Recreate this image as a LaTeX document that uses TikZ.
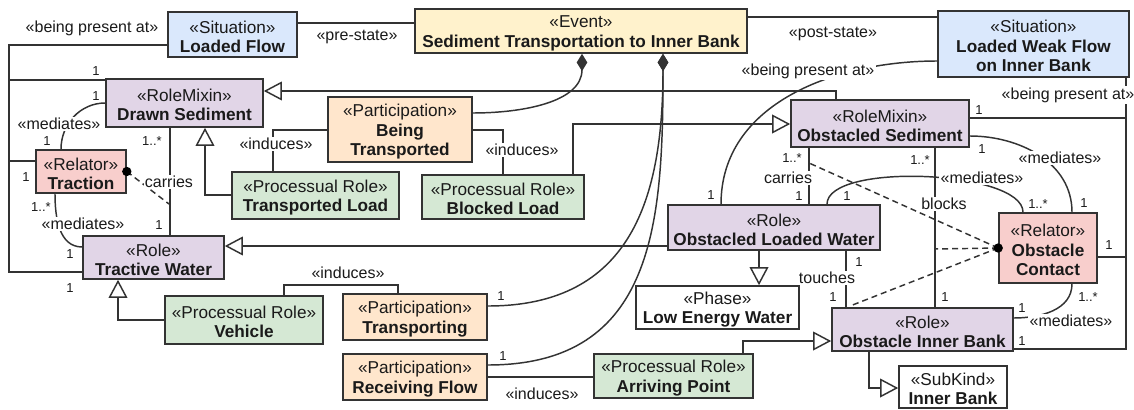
\documentclass[tikz,border=0pt]{standalone}
\usepackage{fontspec}
\setmainfont{Liberation Sans}
\usepackage{tikz}
\usetikzlibrary{arrows.meta}
\definecolor{lineGray}{HTML}{333333}
\definecolor{textGray}{HTML}{1A1A1A}
\definecolor{sitBlue}{HTML}{DAE8FC}
\definecolor{eventYellow}{HTML}{FFF2CC}
\definecolor{rolePurple}{HTML}{E1D5E7}
\definecolor{partOrange}{HTML}{FFE6CC}
\definecolor{procGreen}{HTML}{D5E8D4}
\definecolor{relRed}{HTML}{F8CECC}
\newcommand{\boxtop}{\rule{0pt}{12.5pt}}
\tikzstyle{classNode}=[draw=lineGray, line width=1.2pt, align=center, inner xsep=1pt, inner ysep=-2pt, text=textGray, font=\fontsize{12.9}{14.6}\selectfont]
\tikzstyle{situationNode}=[classNode, fill=sitBlue]
\tikzstyle{eventNode}=[classNode, fill=eventYellow]
\tikzstyle{roleNode}=[classNode, fill=rolePurple]
\tikzstyle{partNode}=[classNode, fill=partOrange]
\tikzstyle{procNode}=[classNode, fill=procGreen]
\tikzstyle{relatorNode}=[classNode, fill=relRed]
\tikzstyle{plainNode}=[classNode, fill=white]
\tikzstyle{assocLine}=[draw=lineGray, line width=1.1pt]
\tikzstyle{genLine}=[assocLine, -{Triangle[open, length=13.5pt, width=14pt]}]
\tikzstyle{compLine}=[assocLine, {Diamond[length=13pt, width=8pt]}-]
\tikzstyle{deriveLine}=[assocLine, dash pattern=on 4.5pt off 3pt]
\tikzstyle{edgeLabel}=[fill=white, inner sep=1pt, text=textGray, font=\fontsize{12}{13}\selectfont]
\tikzstyle{multLabel}=[inner sep=0pt, text=textGray, font=\fontsize{9.75}{10}\selectfont]
\tikzstyle{relDot}=[circle, fill=black, inner sep=0pt, minimum size=7pt]
\tikzset{boxSize/.style 2 args={minimum width=#1*0.75pt, minimum height=#2*0.75pt}}

\begin{document}
\begin{tikzpicture}[x=0.75pt, y=-0.75pt]
  \useasboundingbox (0,0) rectangle (1134,410);

  % situations and event
  \node[situationNode, boxSize={129}{45}] (lf) at (232.5,34.5) {\boxtop«Situation»\\\textbf{Loaded Flow}};
  \node[eventNode, boxSize={332}{44}] (ev) at (581,31) {\boxtop«Event»\\\textbf{Sediment Transportation to Inner Bank}};
  \node[situationNode, boxSize={191}{66}] (lwf) at (1033.5,44) {\boxtop«Situation»\\\textbf{Loaded Weak Flow}\\\textbf{on Inner Bank}};

  % roles and relators
  \node[roleNode, boxSize={157}{48}] (ds) at (184.5,103) {\boxtop«RoleMixin»\\\textbf{Drawn Sediment}};
  \node[relatorNode, boxSize={90}{43}] (tr) at (81,171.5) {\boxtop«Relator»\\\textbf{Traction}};
  \node[roleNode, boxSize={141}{43}] (tw) at (153.5,257.5) {\boxtop«Role»\\\textbf{Tractive Water}};
  \node[roleNode, boxSize={178}{47}] (os) at (880,123.5) {\boxtop«RoleMixin»\\\textbf{Obstacled Sediment}};
  \node[roleNode, boxSize={212}{45}] (olw) at (774,227.5) {\boxtop«Role»\\\textbf{Obstacled Loaded Water}};
  \node[relatorNode, boxSize={98}{70}] (oc) at (1048,248) {\boxtop«Relator»\\\textbf{Obstacle}\\\textbf{Contact}};
  \node[roleNode, boxSize={181}{43}] (oib) at (922.5,329.5) {\boxtop«Role»\\\textbf{Obstacle Inner Bank}};
  \node[plainNode, boxSize={163}{43}] (lew) at (717.5,307.5) {\boxtop«Phase»\\\textbf{Low Energy Water}};
  \node[plainNode, boxSize={108}{42}] (ib) at (953,387) {\boxtop«SubKind»\\\textbf{Inner Bank}};

  % participations and processual roles
  \node[partNode, boxSize={144}{65}] (bt) at (400,129.5) {\boxtop«Participation»\\\textbf{Being}\\\textbf{Transported}};
  \node[partNode, boxSize={144}{46}] (tp) at (415,317) {\boxtop«Participation»\\\textbf{Transporting}};
  \node[partNode, boxSize={144}{46}] (rf) at (415,377) {\boxtop«Participation»\\\textbf{Receiving Flow}};
  \node[procNode, boxSize={167}{47}] (tl) at (315.5,195.5) {\boxtop«Processual Role»\\\textbf{Transported Load}};
  \node[procNode, boxSize={162}{44}] (bl) at (503,197) {\boxtop«Processual Role»\\\textbf{Blocked Load}};
  \node[procNode, boxSize={158}{48}] (ve) at (244,320) {\boxtop«Processual Role»\\\textbf{Vehicle}};
  \node[procNode, boxSize={159}{44}] (ap) at (673.5,376) {\boxtop«Processual Role»\\\textbf{Arriving Point}};

  \coordinate (bpA) at (9,45);
  \coordinate (bpB1) at (1126,118);
  \coordinate (bpB2) at (1126,257);
  \coordinate (bpB3) at (1126,349);
  \coordinate (cT) at (169,204);
  \coordinate (cO) at (809,163);
  \coordinate (cB) at (935,249);
  \coordinate (cTo) at (850,306);

  % pre/post state
  \draw[assocLine] (lf.east |- 0,23) -- (ev.west |- 0,23);
  \draw[assocLine] (ev.east |- 0,17) -- (lwf.west |- 0,17);

  % being present at
  \draw[assocLine] (lf.west |- bpA) -- (bpA) |- (ds.west |- 0,80);
  \draw[assocLine] (bpA) |- (tr.west |- 0,161);
  \draw[assocLine] (bpA) |- (tw.west |- 0,272);
  \draw[assocLine] (lwf.west |- 0,61) to[out=180, in=90] (olw.north -| 721,0);
  \draw[assocLine] (lwf.south -| bpB1) -- (bpB3) -- (oib.east |- bpB3);
  \draw[assocLine] (os.east |- bpB1) -- (bpB1);
  \draw[assocLine] (oc.east |- bpB2) -- (bpB2);

  % parts of the event
  \draw[compLine] (ev.south -| 582,0) to[out=-90, in=0] (bt.east |- 0,113);
  \draw[compLine] (ev.south -| 663,0) to[out=-90, in=0, looseness=1.2] (tp.east |- 0,306);
  \draw[compLine] (ev.south -| 663,0) to[out=-90, in=0, looseness=1.2] (rf.east |- 0,365);

  % specialisations
  \draw[genLine] (os.north -| 836,0) |- (ds.east |- 0,91);
  \draw[genLine] (bl.north -| 573,0) |- (os.west |- 0,124);
  \draw[genLine] (tl.west |- 0,195) -| (ds.south -| 205,0);
  \draw[genLine] (ve.west |- 0,320) -| (tw.south -| 118,0);
  \draw[genLine] (olw.west |- 0,246) -- (tw.east |- 0,246);
  \draw[genLine] (olw.south -| 759,0) -- (lew.north -| 759,0);
  \draw[genLine] (ap.north -| 743,0) |- (oib.west |- 0,341);
  \draw[genLine] (oib.south -| 869,0) |- (ib.west |- 0,388);

  % induces
  \draw[assocLine] (bt.west |- 0,130) -| (tl.north -| 273,0);
  \draw[assocLine] (bt.east |- 0,130) -| (bl.north -| 503,0);
  \draw[assocLine] (ve.north -| 284,0) -- ++(0,-10) -| (tp.north -| 398,0);
  \draw[assocLine] (rf.east |- 0,377) -- (ap.west |- 0,377);

  % mediations and material relations
  \draw[assocLine] (tr.north -| 61,0) to[out=90, in=180] (ds.west |- 0,103);
  \draw[assocLine] (tr.south -| 55,0) to[out=-90, in=180] (tw.west |- 0,247);
  \draw[assocLine] (ds.south -| 170,0) -- (tw.north -| 170,0);
  \draw[assocLine] (os.south -| 809,0) -- (olw.north -| 809,0);
  \draw[assocLine] (os.south -| 935,0) -- (oib.north -| 935,0);
  \draw[assocLine] (olw.south -| 846,0) -- (oib.north -| 846,0);
  \draw[assocLine] (olw.north -| 827,0) to[out=90, in=90, looseness=0.55] (oc.north -| 1023,0);
  \draw[assocLine] (os.east |- 0,136) to[out=0, in=90] (oc.north -| 1072,0);
  \draw[assocLine] (oc.south -| 1072,0) to[out=-90, in=0] (oib.east |- 0,318);

  \draw[deriveLine] (tr.east) -- (cT);
  \draw[deriveLine] (oc.west) -- (cO);
  \draw[deriveLine] (oc.west) -- (cB);
  \draw[deriveLine] (oc.west) -- (cTo);
  \node[relDot] (trDot) at (tr.east) {};
  \node[relDot] (ocDot) at (oc.west) {};

  % labels
  \node[edgeLabel] (lPre) at (357,37) {«pre-state»};
  \node[edgeLabel] (lPost) at (833,34) {«post-state»};
  \node[edgeLabel] (lPresA) at (92,28) {«being present at»};
  \node[edgeLabel] (lPresB) at (808,71) {«being present at»};
  \node[edgeLabel] (lPresC) at (1068,95) {«being present at»};
  \node[edgeLabel] (lMedA) at (59,124) {«mediates»};
  \node[edgeLabel] (lMedB) at (83,224) {«mediates»};
  \node[edgeLabel] (lMedC) at (982,178) {«mediates»};
  \node[edgeLabel] (lMedD) at (1060,158) {«mediates»};
  \node[edgeLabel] (lMedE) at (1071,321) {«mediates»};
  \node[edgeLabel] (lIndA) at (276,144) {«induces»};
  \node[edgeLabel] (lIndB) at (522,150) {«induces»};
  \node[edgeLabel] (lIndC) at (348,273) {«induces»};
  \node[edgeLabel] (lIndD) at (542,394) {«induces»};
  \node[edgeLabel] (lCarA) at (169,182) {carries};
  \node[edgeLabel] (lCarB) at (788,178) {carries};
  \node[edgeLabel] (lBlk) at (944,204) {blocks};
  \node[edgeLabel] (lTch) at (827,278) {touches};

  % multiplicities
  \node[multLabel] (m1) at (96,71) {1};
  \node[multLabel] (m2) at (96,96) {1};
  \node[multLabel] (m3) at (47,141) {1};
  \node[multLabel] (m4) at (152,141) {1..*};
  \node[multLabel] (m5) at (26,177) {1};
  \node[multLabel] (m6) at (41,207) {1..*};
  \node[multLabel] (m7) at (159,225) {1};
  \node[multLabel] (m8) at (70,254) {1};
  \node[multLabel] (m9) at (70,288) {1};
  \node[multLabel] (m10) at (501,296) {1};
  \node[multLabel] (m11) at (503,356) {1};
  \node[multLabel] (m12) at (711,195) {1};
  \node[multLabel] (m13) at (792,158) {1..*};
  \node[multLabel] (m14) at (799,196) {1};
  \node[multLabel] (m15) at (847,196) {1};
  \node[multLabel] (m16) at (920,160) {1..*};
  \node[multLabel] (m17) at (979,110) {1};
  \node[multLabel] (m18) at (982,149) {1};
  \node[multLabel] (m19) at (1038,204) {1..*};
  \node[multLabel] (m20) at (1084,203) {1};
  \node[multLabel] (m21) at (1109,245) {1};
  \node[multLabel] (m22) at (859,262) {1};
  \node[multLabel] (m23) at (833,297) {1};
  \node[multLabel] (m24) at (945,297) {1};
  \node[multLabel] (m25) at (1088,297) {1..*};
  \node[multLabel] (m26) at (1022,308) {1};
  \node[multLabel] (m27) at (1022,341) {1};
\end{tikzpicture}
\end{document}
